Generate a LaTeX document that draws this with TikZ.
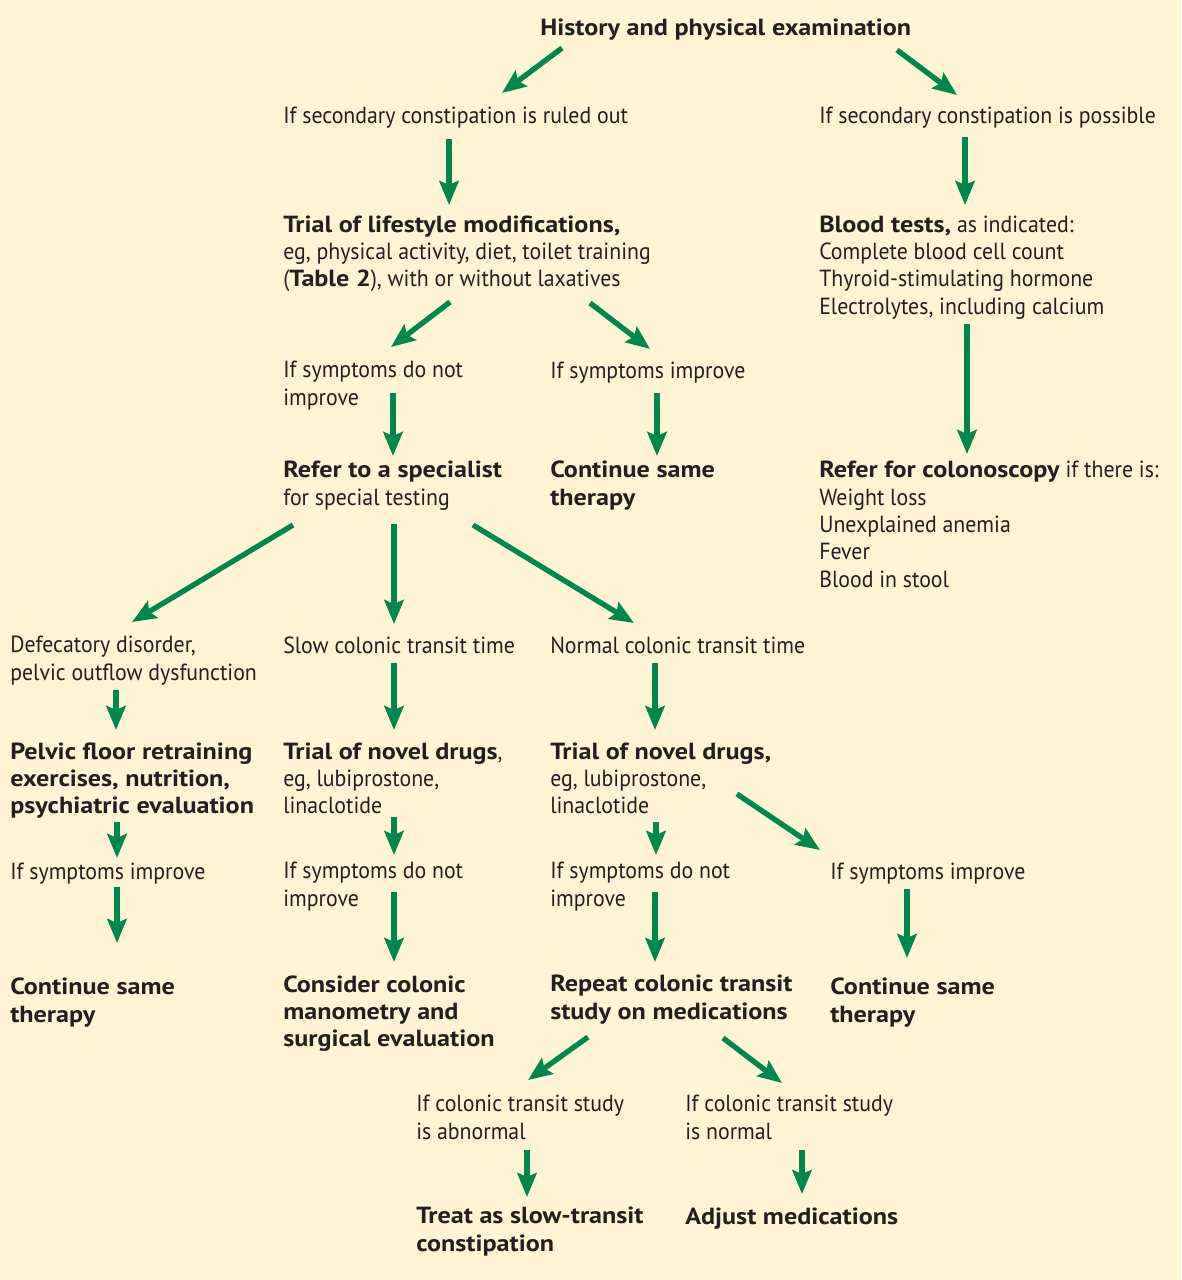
\documentclass[tikz,border=0pt]{standalone}
\usepackage{fontspec}
\setmainfont[UprightFeatures={FakeStretch=0.935}, BoldFeatures={FakeStretch=1.12}]{PT Sans}
\usepackage{tikz}
\usetikzlibrary{arrows.meta}

\definecolor{cream}{HTML}{FFF4D6}
\definecolor{flowgreen}{HTML}{00874B}
\definecolor{ink}{HTML}{231F20}

\begin{document}
\begin{tikzpicture}[
    x=0.75pt, y=-0.75pt,
    txt/.style={anchor=base west, inner sep=0pt, align=left, text=ink, font=\fontsize{17.5}{20.5}\selectfont},
    txtb/.style={txt, font=\fontsize{17.5}{20.5}\selectfont\bfseries},
    arrow/.style={-{Stealth[length=18pt, width=14.5pt, inset=3pt]}, line width=4pt, draw=flowgreen}
]
\fill[cream] (0,0) rectangle (1181,1280);
\useasboundingbox (0,0) rectangle (1181,1280);

% top of the chart (nodes sit on the baseline of their last line)
\node[txtb] (hist) at (540,36) {History and physical examination};
\node[txt] (ruled) at (283,124) {If secondary constipation is ruled out};
\node[txt] (possible) at (819,124) {If secondary constipation is possible};
\node[txt] (lifestyle) at (283,286.7) {\textbf{Trial of lifestyle modifications,}\\eg, physical activity, diet, toilet training\\(\textbf{Table 2}), with or without laxatives};
\node[txt] (blood) at (819,314) {\textbf{Blood tests,} as indicated:\\Complete blood cell count\\Thyroid-stimulating hormone\\Electrolytes, including calcium};
\node[txt] (notimp1) at (283,405.3) {If symptoms do not\\improve};
\node[txt] (imp1) at (550,378) {If symptoms improve};
\node[txt] (refer) at (283,505.3) {\textbf{Refer to a specialist}\\for special testing};
\node[txtb] (cont1) at (550,505.3) {Continue same\\therapy};
\node[txt] (colon) at (819,587.3) {\textbf{Refer for colonoscopy} if there is:\\Weight loss\\Unexplained anemia\\Fever\\Blood in stool};

% specialist branches
\node[txt] (defec) at (10,680.3) {Defecatory disorder,\\pelvic outflow dysfunction};
\node[txt] (slow) at (283,653) {Slow colonic transit time};
\node[txt] (normal) at (550,653) {Normal colonic transit time};
\node[txtb] (pelvic) at (10,813.7) {Pelvic floor retraining\\exercises, nutrition,\\psychiatric evaluation};
\node[txt] (novel1) at (283,813.7) {\textbf{Trial of novel drugs},\\eg, lubiprostone,\\linaclotide};
\node[txt] (novel2) at (550,813.7) {\textbf{Trial of novel drugs,}\\eg, lubiprostone,\\linaclotide};
\node[txt] (imp2) at (10,879) {If symptoms improve};
\node[txt] (notimp2) at (283,906.3) {If symptoms do not\\improve};
\node[txt] (notimp3) at (550,906.3) {If symptoms do not\\improve};
\node[txt] (imp3) at (830,879) {If symptoms improve};
\node[txtb] (cont2) at (10,1022.3) {Continue same\\therapy};
\node[txtb] (manom) at (283,1046.7) {Consider colonic\\manometry and\\surgical evaluation};
\node[txtb] (repeat) at (550,1019.3) {Repeat colonic transit\\study on medications};
\node[txtb] (cont3) at (830,1022.3) {Continue same\\therapy};
\node[txt] (abn) at (416,1139.3) {If colonic transit study\\is abnormal};
\node[txt] (norm) at (685,1139.3) {If colonic transit study\\is normal};
\node[txtb] (treat) at (416,1251.3) {Treat as slow-transit\\constipation};
\node[txtb] (adjust) at (685,1224) {Adjust medications};

% arrows
\draw[arrow] ([shift={(22,12)}]hist.base west) -- ([shift={(219,-31)}]ruled.base west);
\draw[arrow] ([shift={(357,14)}]hist.base west) -- ([shift={(138,-29)}]possible.base west);
\draw[arrow] ([shift={(166,15)}]ruled.base west) -- ([shift={(166,-81.7)}]lifestyle.base west);
\draw[arrow] ([shift={(146,13)}]possible.base west) -- ([shift={(146,-109)}]blood.base west);
\draw[arrow] ([shift={(167,15.3)}]lifestyle.base west) -- ([shift={(108,-58.3)}]notimp1.base west);
\draw[arrow] ([shift={(307,16.3)}]lifestyle.base west) -- ([shift={(100,-29)}]imp1.base west);
\draw[arrow] ([shift={(148,10)}]blood.base west) -- ([shift={(148,-133.3)}]colon.base west);
\draw[arrow] ([shift={(110,-12.3)}]notimp1.base west) -- ([shift={(110,-49.3)}]refer.base west);
\draw[arrow] ([shift={(107,15)}]imp1.base west) -- ([shift={(107,-49.3)}]cont1.base west);
\draw[arrow] ([shift={(10,19.7)}]refer.base west) -- ([shift={(122,-58.3)}]defec.base west);
\draw[arrow] ([shift={(111,18.7)}]refer.base west) -- ([shift={(111,-29)}]slow.base west);
\draw[arrow] ([shift={(190,19.7)}]refer.base west) -- ([shift={(84,-30)}]normal.base west);
\draw[arrow] ([shift={(106,9.7)}]defec.base west) -- ([shift={(106,-83.7)}]pelvic.base west);
\draw[arrow] ([shift={(111,10)}]slow.base west) -- ([shift={(111,-83.7)}]novel1.base west);
\draw[arrow] ([shift={(105,10)}]normal.base west) -- ([shift={(105,-83.7)}]novel2.base west);
\draw[arrow] ([shift={(107,8.3)}]pelvic.base west) -- ([shift={(107,-21)}]imp2.base west);
\draw[arrow] ([shift={(111,3.3)}]novel1.base west) -- ([shift={(111,-51.3)}]notimp2.base west);
\draw[arrow] ([shift={(106,8.3)}]novel2.base west) -- ([shift={(106,-51.3)}]notimp3.base west);
\draw[arrow] ([shift={(187,-19.7)}]novel2.base west) -- ([shift={(-10,-29)}]imp3.base west);
\draw[arrow] ([shift={(107,8)}]imp2.base west) -- ([shift={(107,-79.3)}]cont2.base west);
\draw[arrow] ([shift={(111,-14.3)}]notimp2.base west) -- ([shift={(111,-84.7)}]manom.base west);
\draw[arrow] ([shift={(105,-14.3)}]notimp3.base west) -- ([shift={(105,-57.3)}]repeat.base west);
\draw[arrow] ([shift={(77,10)}]imp3.base west) -- ([shift={(77,-64.3)}]cont3.base west);
\draw[arrow] ([shift={(38,17.7)}]repeat.base west) -- ([shift={(112,-59.3)}]abn.base west);
\draw[arrow] ([shift={(173,18.7)}]repeat.base west) -- ([shift={(97,-56.3)}]norm.base west);
\draw[arrow] ([shift={(111,10.7)}]abn.base west) -- ([shift={(111,-54.3)}]treat.base west);
\draw[arrow] ([shift={(117,10.7)}]norm.base west) -- ([shift={(117,-30)}]adjust.base west);
\end{tikzpicture}
\end{document}
